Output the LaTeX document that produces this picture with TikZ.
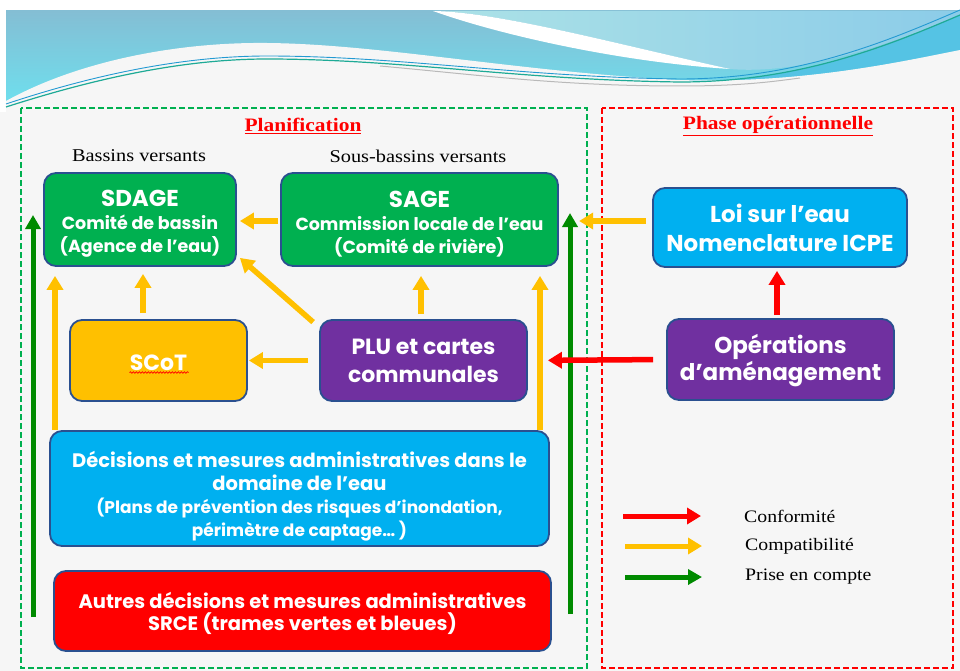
\documentclass[tikz,border=0pt]{standalone}
\usepackage{fontspec}
\setmainfont{Liberation Serif}[FakeStretch=1.13]
\setsansfont{Poppins}
\usetikzlibrary{arrows.meta,decorations.pathmorphing}
\definecolor{gbox}{HTML}{00B050}
\definecolor{ybox}{HTML}{FFC000}
\definecolor{pbox}{HTML}{7030A0}
\definecolor{cbox}{HTML}{00B0F0}
\definecolor{rbox}{HTML}{FF0000}
\definecolor{bord}{HTML}{2A5090}
\definecolor{garrow}{HTML}{008A00}
\definecolor{bg}{HTML}{F6F6F6}
\definecolor{cyanTop}{RGB}{132,190,212}
\definecolor{cyanBot}{RGB}{108,226,240}
\definecolor{lightL}{RGB}{172,226,231}
\definecolor{lightR}{RGB}{140,204,232}
\definecolor{cyanR}{RGB}{85,195,228}
\definecolor{teal}{RGB}{30,170,150}
\definecolor{wblue}{RGB}{50,110,190}
\tikzset{
  box/.style={draw=bord, line width=1.8pt, rounded corners=12pt, inner sep=0pt},
  boxtxt/.style={text=white, align=center, inner sep=0pt},
  yarr/.style={draw=ybox, line width=5.5pt, -{Triangle[length=14pt,width=16pt]}},
  rarr/.style={draw=rbox, line width=5.5pt, -{Triangle[length=14pt,width=16pt]}},
  garr/.style={draw=garrow, line width=5pt, -{Triangle[length=14pt,width=15pt]}},
  legtxt/.style={anchor=west, font=\fontsize{17.5}{20}\selectfont, text=black, inner sep=0pt},
  ttl/.style={font=\bfseries\fontsize{19}{22}\selectfont, text=rbox, inner sep=0pt},
  subttl/.style={font=\fontsize{18}{21}\selectfont, text=black, inner sep=0pt},
  dashbox/.style={line width=2pt, dash pattern=on 6pt off 3pt}
}
\begin{document}
\begin{tikzpicture}[x=1pt,y=-1pt]
\useasboundingbox (0,0) rectangle (960,671);
% background
\fill[white] (0,0) rectangle (960,671);
\fill[bg] (0,11) rectangle (960,671);
\fill[white] (0,11) rectangle (6,112);
% header band
\shade[top color=cyanTop, bottom color=cyanBot] (6,11) rectangle (960,112);
\shade[left color=lightL, right color=lightR] (433,11) .. controls (500,12) and (620,45) .. (730,69) .. controls (800,75) and (890,45) .. (960,15) -- (960,11) -- cycle;
\fill[white] (433,11) .. controls (500,12) and (620,45) .. (730,69) .. controls (620,62) and (500,35) .. (433,11) -- cycle;
\fill[cyanR] (680,82) .. controls (800,82) and (890,45) .. (960,15) -- (960,50) .. controls (900,62) and (800,84) .. (680,80) -- cycle;
\fill[bg] (6,112) -- (6,101) .. controls (80,60) and (180,42) .. (267,43) .. controls (380,44) and (520,72) .. (680,80) .. controls (800,84) and (900,62) .. (960,50) -- (960,112) -- cycle;
\draw[gray!55, line width=1pt] (380,66) .. controls (480,75) and (560,86) .. (680,86) .. controls (740,86) and (770,82) .. (800,78);
\draw[teal, line width=1.2pt] (6,107) .. controls (90,80) and (180,59) .. (267,59) .. controls (400,59) and (520,80) .. (680,82) .. controls (800,82) and (890,45) .. (960,15);
\draw[wblue!70!cyan, line width=0.9pt] (6,104) .. controls (90,76) and (180,56) .. (267,56) .. controls (400,56) and (520,77) .. (680,79) .. controls (800,79) and (890,40) .. (960,10);

% dashed frames
\draw[dashbox, draw=gbox] (21,108) rectangle (587,668);
\draw[dashbox, draw=rbox] (602,108) rectangle (953,668);

% titles
\node[ttl] (tplan) at (303,126) {\underline{Planification}};
\node[ttl] (tphase) at (778,126) {\underline{Phase opérationnelle}};
\node[subttl] (tbv) at (139,156) {Bassins versants};
\node[subttl] (tsbv) at (418,156) {Sous-bassins versants};

% boxes
\node[box, fill=gbox, minimum width=192pt, minimum height=93pt] (SDAGE) at (140,219.5) {};
\node[boxtxt, font=\sffamily\bfseries\fontsize{17.5}{23}\selectfont] (SDAGEt) at ([yshift=-4.5pt]SDAGE.center)
  {{\fontsize{23}{23}\selectfont SDAGE}\\Comité de bassin\\(Agence de l’eau)};
\node[box, fill=gbox, minimum width=277pt, minimum height=93pt] (SAGE) at (419.5,219.5) {};
\node[boxtxt, font=\sffamily\bfseries\fontsize{17.5}{23}\selectfont] (SAGEt) at ([yshift=-4.5pt]SAGE.center)
  {{\fontsize{23}{23}\selectfont SAGE}\\Commission locale de l’eau\\(Comité de rivière)};
\node[box, fill=ybox, minimum width=177pt, minimum height=81pt] (SCoT) at (158.5,360.5) {};
\node[boxtxt, font=\sffamily\bfseries\fontsize{22}{27}\selectfont] (SCoTt) at ([yshift=-2pt]SCoT.center) {SCoT};
\node[box, fill=pbox, minimum width=207pt, minimum height=81pt] (PLU) at (423.5,360.5) {};
\node[boxtxt, font=\sffamily\bfseries\fontsize{22}{28}\selectfont] (PLUt) at (PLU.center)
  {PLU et cartes\\communales};
\node[box, fill=cbox, minimum width=254pt, minimum height=79pt] (LOI) at (780,227.5) {};
\node[boxtxt, font=\sffamily\bfseries\fontsize{23}{29}\selectfont] (LOIt) at (LOI.center)
  {Loi sur l’eau\\Nomenclature ICPE};
\node[box, fill=pbox, minimum width=227pt, minimum height=81pt] (OPE) at (780.5,359.5) {};
\node[boxtxt, font=\sffamily\bfseries\fontsize{23}{27}\selectfont] (OPEt) at ([yshift=-1pt]OPE.center)
  {Opérations\\d’aménagement};
\node[box, fill=cbox, minimum width=499pt, minimum height=115pt] (DEC) at (299.5,488.5) {};
\node[boxtxt, font=\sffamily\bfseries\fontsize{17}{23}\selectfont] (DECt) at ([yshift=-7.5pt]DEC.center)
  {{\fontsize{19.5}{23}\selectfont Décisions et mesures administratives dans le}\\{\fontsize{19.5}{23}\selectfont domaine de l’eau}\\(Plans de prévention des risques d’inondation,\\périmètre de captage… )};
\node[box, fill=rbox, minimum width=497pt, minimum height=80pt] (AUT) at (302.5,611) {};
\node[boxtxt, font=\sffamily\bfseries\fontsize{19.5}{22}\selectfont] (AUTt) at ([yshift=-2pt]AUT.center)
  {Autres décisions et mesures administratives\\SRCE (trames vertes et bleues)};

% wavy spell-check underline under SCoT
\draw[rbox, line width=0.7pt, decorate, decoration={snake, amplitude=0.8pt, segment length=3pt}]
  ([xshift=-29pt,yshift=-10pt]SCoTt.center) -- ([xshift=30pt,yshift=-10pt]SCoTt.center);

% green "prise en compte" arrows
\coordinate (gl1) at (33,617);
\coordinate (gl2) at (33,215);
\coordinate (gr1) at (570,614);
\coordinate (gr2) at (570,213);
\draw[garr] (gl1) -- (gl2);
\draw[garr] (gr1) -- (gr2);

% yellow compatibility arrows
\draw[yarr, shorten <=2pt, shorten >=3pt] ([yshift=-1.5pt]SAGE.west) -- ([yshift=-1.5pt]SDAGE.east);
\draw[yarr, shorten <=6pt, shorten >=7pt] ([xshift=-15.5pt]SCoT.north) -- ([xshift=-15.5pt]SCoT.north |- SDAGE.south);
\draw[yarr] ([xshift=-6pt,yshift=-3pt]PLU.north west) -- ([xshift=3pt,yshift=9pt]SDAGE.south east);
\draw[yarr, shorten <=11pt, shorten >=1pt] (PLU.west) -- (SCoT.east);
\draw[yarr, shorten <=5pt, shorten >=9pt] ([xshift=-2.5pt]PLU.north) -- ([xshift=-2.5pt]PLU.north |- SAGE.south);
\draw[yarr, shorten >=9pt] ([xshift=-244.5pt]DEC.north) -- ([xshift=-244.5pt]DEC.north |- SDAGE.south);
\draw[yarr, shorten >=9pt] ([xshift=240.5pt]DEC.north) -- ([xshift=240.5pt]DEC.north |- SAGE.south);
\draw[yarr, shorten <=6pt] ([yshift=6.5pt]LOI.west) -- ++(-73,0) coordinate (loitip);

% red conformity arrows
\draw[rarr, shorten <=3pt, shorten >=3pt] ([xshift=-3.5pt]OPE.north) -- ([xshift=-3.5pt]OPE.north |- LOI.south);
\draw[rarr, shorten <=13pt, shorten >=20pt] (OPE.west) -- (PLU.east);

% legend
\coordinate (lr1) at (623,516); \coordinate (lr2) at (701,516);
\coordinate (ly1) at (625,546); \coordinate (ly2) at (702,546);
\coordinate (lg1) at (625,577); \coordinate (lg2) at (702,577);
\draw[rarr, line width=5pt] (lr1) -- (lr2);
\draw[yarr, line width=5pt] (ly1) -- (ly2);
\draw[garr] (lg1) -- (lg2);
\node[legtxt] (l1) at (744,516) {Conformité};
\node[legtxt] (l2) at (745,546) {Compatibilité};
\node[legtxt] (l3) at (745,577) {Prise en compte};
\end{tikzpicture}
\end{document}
